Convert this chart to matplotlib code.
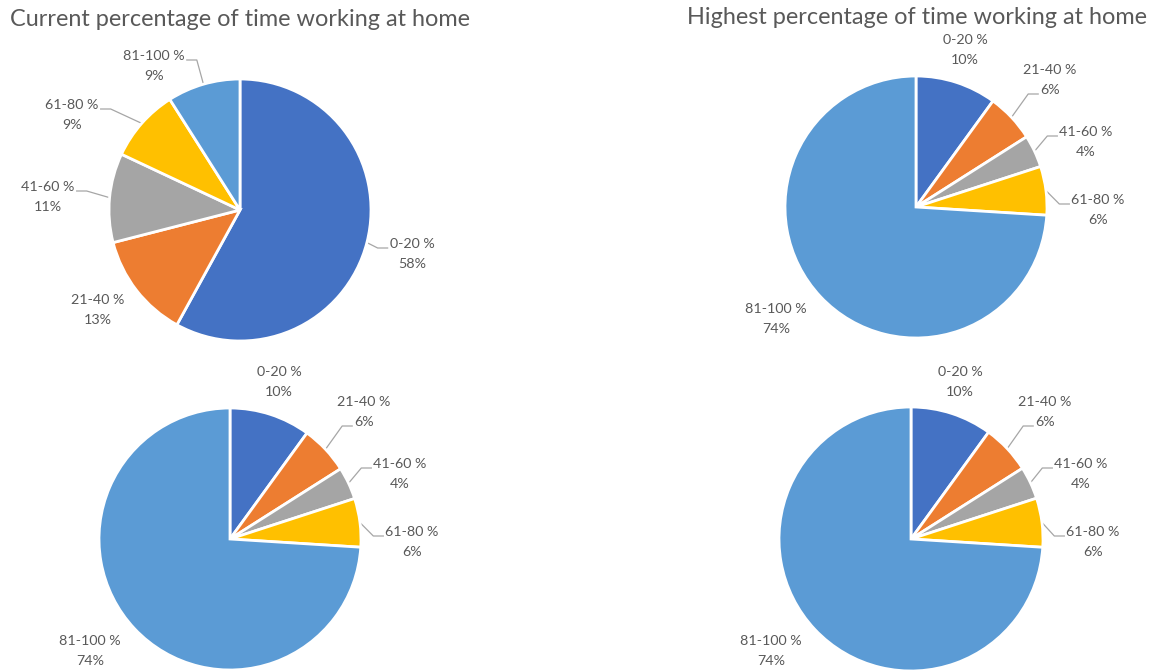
import matplotlib
matplotlib.use("Agg")
import matplotlib.pyplot as plt
import numpy as np

plt.rcParams['font.family'] = ['Lato', 'DejaVu Sans']

ranges = ['0-20 %', '21-40 %', '41-60 %', '61-80 %', '81-100 %']
current_pct = [58, 13, 11, 9, 9]
highest_pct = [10, 6, 4, 6, 74]
titles = ['Current percentage of time working at home',
          'Highest percentage of time working at home']
colors = ['#4472C4', '#ED7D31', '#A5A5A5', '#FFC000', '#5B9BD5']

W, H = 1157, 670

# pie centre (image px, y down), radius, label layout
pies = [
    (current_pct, (240, 210), 131, 'cur'),
    (highest_pct, (916, 207), 131, 'high'),
    (highest_pct, (230, 539), 131, 'high'),
    (highest_pct, (911, 539), 132, 'high'),
]
label_offsets = {
    'cur': [(172, 44), (-142, 100), (-192, -13), (-168, -95), (-86, -144)],
    'high': [(49, -157), (134, -127), (170, -65), (182, 3), (-140, 112)],
}
# which text row the leader line attaches to (None = no leader)
leader_row = {
    'cur': [0, None, 0, 0, 0],
    'high': [None, 1, 0, 0, None],
}
title_pos = [(240, 20), (917, 18)]

fig = plt.figure(figsize=(W / 100, H / 100), dpi=100)
ax = fig.add_axes([0, 0, 1, 1])

txt_col = '#595959'
leaders = []
for vals, (cx, cy_img), R, lay in pies:
    cy = H - cy_img
    ax.pie(vals, colors=colors, startangle=90, counterclock=False,
           center=(cx, cy), radius=R,
           wedgeprops=dict(edgecolor='white', linewidth=2))
    total = float(sum(vals))
    cum = np.cumsum(vals) - np.array(vals) / 2.0
    for i, v in enumerate(vals):
        th = np.deg2rad(90 - 360 * cum[i] / total)
        dx, dy = label_offsets[lay][i]
        lx, ly = cx + dx, cy - dy
        t1 = ax.text(lx, ly + 10, ranges[i], ha='center', va='center',
                     fontsize=10.3, color=txt_col)
        t2 = ax.text(lx, ly - 10, '%d%%' % v, ha='center', va='center',
                     fontsize=10.3, color=txt_col)
        row = leader_row[lay][i]
        if row is not None:
            edge = (cx + R * np.cos(th), cy + R * np.sin(th))
            leaders.append((edge, [t1, t2][row], dx > 0))

for (x, y), t in zip(title_pos, titles):
    ax.text(x, H - y, t, ha='center', va='center', fontsize=16.9, color=txt_col)

ax.set_xlim(0, W)
ax.set_ylim(0, H)
ax.set_aspect('equal')
ax.axis('off')

fig.canvas.draw()
r = fig.canvas.get_renderer()
inv = ax.transData.inverted()
for edge, t, right in leaders:
    bb = t.get_window_extent(r).transformed(inv)
    ay = (bb.y0 + bb.y1) / 2 - 4
    if right:
        ax_ = bb.x0 - 2
        ex = ax_ - 10
    else:
        ax_ = bb.x1 + 2
        ex = ax_ + 10
    ax.plot([edge[0], ex, ax_], [edge[1], ay, ay], color='#A6A6A6', lw=0.9,
            zorder=0.5)

fig.savefig('out.png', dpi=100)
